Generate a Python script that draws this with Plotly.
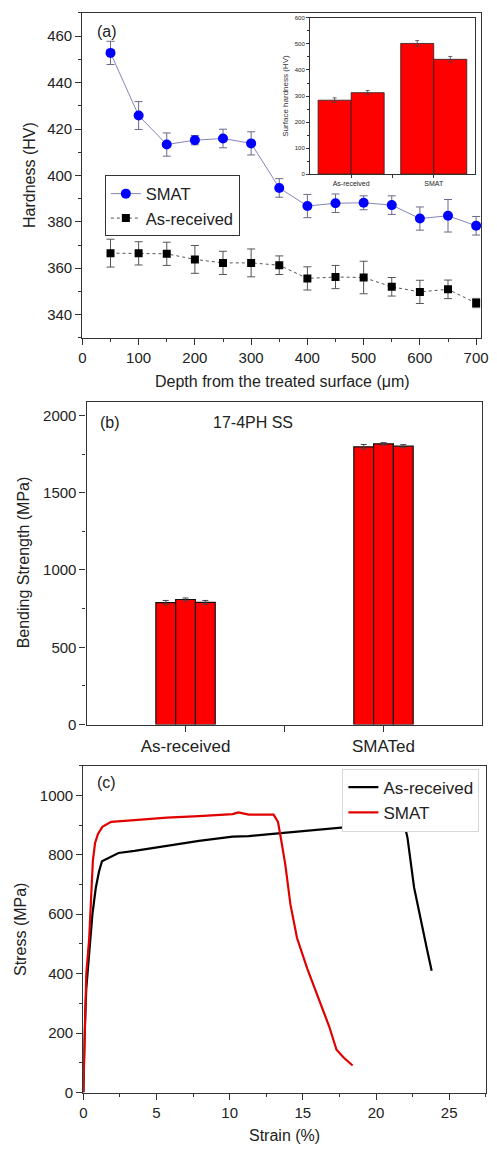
import plotly.graph_objects as go

W, H = 497, 1152
PAD = 8                     # default page body margin
FW, FH = W - PAD, H - PAD   # figure size that fits the window

# ---------------- Panel (a): hardness profile ----------------
depth = [50, 100, 150, 200, 250, 300, 350, 400, 450, 500, 550, 600, 650, 700]
smat_hv = [452.8, 425.8, 413.3, 415.2, 415.9, 413.8, 394.6, 386.8, 388.0, 388.2, 387.2, 381.4, 382.6, 378.3]
smat_err = [5, 6, 5, 2, 4, 5, 4, 5, 4, 3, 4, 5, 7, 4]
asr_hv = [366.5, 366.4, 366.2, 363.8, 362.3, 362.3, 361.3, 355.6, 356.2, 356.0, 352.0, 349.8, 350.9, 345.0]
asr_err = [6, 5, 5, 6, 5, 6, 4, 5, 5, 7, 4, 5, 4, 2]

# inset: surface hardness
inset_cats = ["As-received", "SMAT"]
inset_bar1 = [284, 502]
inset_bar2 = [313, 441]
inset_err1 = [9, 11]
inset_err2 = [8, 11]

# ---------------- Panel (b): bending strength ----------------
b_cats = ["As-received", "SMATed"]
b_s1 = [789, 1797]
b_s2 = [809, 1816]
b_s3 = [791, 1801]
b_e1 = [14, 15]
b_e2 = [10, 8]
b_e3 = [12, 10]

# ---------------- Panel (c): stress-strain ----------------
asr_strain = [0, 0.07, 0.2, 0.38, 0.62, 0.85, 1.07, 1.27, 2.4, 3.5, 5.7, 7.9, 10.2, 11.3, 13.5, 17.3, 20.6, 21.9, 22.15, 22.6, 23.5, 23.8]
asr_stress = [0, 180, 350, 467, 600, 689, 744, 778, 806, 813, 831, 847, 861, 863, 873, 891, 907, 911, 857, 690, 478, 410]
smat_strain = [0, 0.1, 0.2, 0.4, 0.5, 0.65, 0.8, 1.0, 1.3, 1.9, 3.5, 5.7, 7.9, 10.2, 10.6, 11.3, 13.0, 13.3, 13.5, 13.8, 14.15, 14.6, 15.3, 16.8, 17.3, 17.8, 18.4]
smat_stress = [0, 250, 400, 520, 650, 780, 840, 870, 894, 911, 917, 925, 930, 937, 943, 935, 935, 911, 855, 767, 633, 520, 417, 222, 144, 117, 91]

FONT = "Arial, Liberation Sans, sans-serif"
AX = "#333333"
RED = "#ff0000"


def px_x(p):
    return (p - PAD) / FW


def px_y(p):
    return 1 - (p - PAD) / FH


fig = go.Figure()

# (a) main
fig.add_trace(go.Scatter(
    x=depth, y=smat_hv, name="SMAT", mode="lines+markers",
    line=dict(color="#8585bb", width=1),
    marker=dict(symbol="circle", size=10, color="#0000ff"),
    error_y=dict(type="data", array=smat_err, color="#6a6a8a", thickness=1, width=4),
    xaxis="x", yaxis="y", legend="legend"))
fig.add_trace(go.Scatter(
    x=depth, y=asr_hv, name="As-received", mode="lines+markers",
    line=dict(color="#555555", width=1, dash="dot"),
    marker=dict(symbol="square", size=8, color="#000000"),
    error_y=dict(type="data", array=asr_err, color="#555555", thickness=1, width=4),
    xaxis="x", yaxis="y", legend="legend"))

# (a) inset
inset_x = list(range(len(inset_cats)))
for vals, errs, off in [(inset_bar1, inset_err1, -0.4), (inset_bar2, inset_err2, 0.0)]:
    fig.add_trace(go.Bar(
        x=inset_x, y=vals, width=0.4, offset=off, showlegend=False,
        marker=dict(color=RED, line=dict(color="#222222", width=0.8)),
        error_y=dict(type="data", array=errs, color="#444444", thickness=0.8, width=2),
        xaxis="x2", yaxis="y2"))

# (b)
b_x = list(range(len(b_cats)))
for vals, errs, off in [(b_s1, b_e1, -0.15), (b_s2, b_e2, -0.05), (b_s3, b_e3, 0.05)]:
    fig.add_trace(go.Bar(
        x=b_x, y=vals, width=0.1, offset=off, showlegend=False,
        marker=dict(color=RED, line=dict(color="#111111", width=1.2)),
        error_y=dict(type="data", array=errs, color="#444444", thickness=1, width=3),
        xaxis="x3", yaxis="y3"))

# (c)
fig.add_trace(go.Scatter(x=asr_strain, y=asr_stress, name="As-received", mode="lines",
                         line=dict(color="#000000", width=2.2), xaxis="x4", yaxis="y4", legend="legend2"))
fig.add_trace(go.Scatter(x=smat_strain, y=smat_stress, name="SMAT", mode="lines",
                         line=dict(color="#e00000", width=2.2), xaxis="x4", yaxis="y4", legend="legend2"))


def axis(domain, rng, anchor, dtick=None, minor_dtick=None, size=15, ticklen=6, **kw):
    d = dict(domain=domain, range=rng, anchor=anchor, showline=True, linecolor=AX, linewidth=1.3,
             mirror=True, ticks="outside", ticklen=ticklen, tickwidth=1, tickcolor=AX,
             showgrid=False, zeroline=False, tickfont=dict(size=size, color="#222222", family=FONT))
    if dtick is not None:
        d["dtick"] = dtick
    if minor_dtick is not None:
        d["minor"] = dict(ticks="outside", ticklen=max(2, ticklen // 2), tickwidth=1, tickcolor=AX,
                          dtick=minor_dtick, showgrid=False)
    d.update(kw)
    return d


fig.update_layout(
    width=FW, height=FH, margin=dict(l=0, r=0, t=0, b=0),
    paper_bgcolor="white", plot_bgcolor="white",
    font=dict(family=FONT, color="#222222"),
    barmode="overlay", hovermode=False,
    xaxis=axis([px_x(80), px_x(488)], [0, 709], "y", dtick=100, minor_dtick=50, tick0=0),
    yaxis=axis([px_y(338), px_y(10)], [330, 470], "x", dtick=20, minor_dtick=10, tick0=0),
    xaxis2=axis([px_x(312.7), px_x(481.7)], [-0.5, 1.5], "y2", size=7, ticklen=3,
                tickmode="array", tickvals=[0, 0.5, 1], ticktext=["As-received", "", "SMAT"],
                linewidth=0.8),
    yaxis2=axis([px_y(172.7), px_y(15)], [0, 600], "x2", dtick=100, minor_dtick=50, size=6, ticklen=3,
                linewidth=0.8,
                title=dict(text="Surface hardness (HV)", font=dict(size=8, color="#333"), standoff=4)),
    xaxis3=axis([px_x(84.3), px_x(489.3)], [-0.5, 1.5], "y3", size=17,
                tickmode="array", tickvals=[0, 0.5, 1], ticktext=["As-received", "", "SMATed"]),
    yaxis3=axis([px_y(728.5), px_y(402.3)], [0, 2090], "x3", dtick=500, minor_dtick=250, tick0=0),
    xaxis4=axis([px_x(81), px_x(492.7)], [0, 27.5], "y4", dtick=5, minor_dtick=2.5, tick0=0),
    yaxis4=axis([px_y(1100), px_y(770)], [0, 1100], "x4", dtick=200, minor_dtick=100, tick0=0),
    legend=dict(x=px_x(103), y=px_y(174), xanchor="left", yanchor="top",
                bgcolor="white", bordercolor=AX, borderwidth=1,
                font=dict(size=16.5, family=FONT, color="#222"), tracegroupgap=0,
                itemwidth=30),
    legend2=dict(x=px_x(346), y=px_y(773), xanchor="left", yanchor="top",
                 bgcolor="white", bordercolor="#d8d8d8", borderwidth=1,
                 font=dict(size=17, family=FONT, color="#222"), tracegroupgap=0,
                 itemwidth=30),
)

ann = [
    dict(text="(a)", x=px_x(105), y=px_y(29), size=16),
    dict(text="(b)", x=px_x(108), y=px_y(423), size=16),
    dict(text="17-4PH SS", x=px_x(255), y=px_y(423), size=16),
    dict(text="(c)", x=px_x(105), y=px_y(787), size=16),
    dict(text="Depth from the treated surface (μm)", x=px_x(285), y=px_y(382), size=16),
    dict(text="Strain (%)", x=px_x(287), y=px_y(1143), size=16),
    dict(text="Hardness (HV)", x=px_x(26), y=px_y(174), size=16, angle=-90),
    dict(text="Bending Strength (MPa)", x=px_x(20), y=px_y(565), size=16, angle=-90),
    dict(text="Stress (MPa)", x=px_x(16), y=px_y(935), size=16, angle=-90),
]
for a in ann:
    fig.add_annotation(text=a["text"], x=a["x"], y=a["y"], xref="paper", yref="paper",
                       xanchor="center", yanchor="middle", showarrow=False,
                       textangle=a.get("angle", 0),
                       font=dict(size=a["size"], family=FONT, color="#222222"))

fig.write_html("out.html", config={"displayModeBar": False})
